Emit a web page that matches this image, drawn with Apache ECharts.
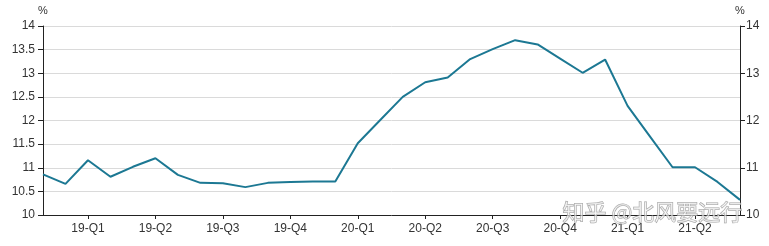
<!DOCTYPE html>
<html><head><meta charset="utf-8">
<script src="https://cdn.jsdelivr.net/npm/echarts@6/dist/echarts.min.js"></script>
<style>html,body{margin:0;padding:0;background:#fff}#c{width:769px;height:246px}</style>
</head><body><div id="c"></div>
<script>
const months = ['18-11','18-12','19-01','19-02','19-03','19-04','19-05','19-06','19-07','19-08','19-09','19-10','19-11','19-12','20-01','20-02','20-03','20-04','20-05','20-06','20-07','20-08','20-09','20-10','20-11','20-12','21-01','21-02','21-03','21-04','21-05','21-06'];
const values = [10.86,10.66,11.16,10.81,11.02,11.2,10.85,10.68,10.67,10.59,10.68,10.70,10.71,10.71,11.52,12.01,12.5,12.81,12.91,13.3,13.51,13.7,13.61,13.31,13.01,13.29,12.31,11.66,11.01,11.01,10.7,10.32];
const quarterLabels = {2:'19-Q1',5:'19-Q2',8:'19-Q3',11:'19-Q4',14:'20-Q1',17:'20-Q2',20:'20-Q3',23:'20-Q4',26:'21-Q1',29:'21-Q2'};
const leftTicks = [10,10.5,11,11.5,12,12.5,13,13.5,14];
const rightTicks = [10,11,12,13,14];
const FONT = 'Liberation Sans, Arial, sans-serif';
const chart = echarts.init(document.getElementById('c'));
chart.setOption({
  animation:false,
  grid:{left:43,right:29,top:26,bottom:31},
  xAxis:{type:'category',data:months,boundaryGap:false,
    axisLine:{lineStyle:{color:'#222',width:1}},
    axisTick:{interval:(i)=>quarterLabels[i]!==undefined,length:4,lineStyle:{color:'#222'}},
    axisLabel:{interval:(i)=>quarterLabels[i]!==undefined,formatter:(v,i)=>quarterLabels[i]||'',color:'#333',fontSize:12,fontFamily:FONT,margin:8},
    splitLine:{show:false}},
  yAxis:[
    {type:'value',min:10,max:14,interval:0.5,position:'left',
     name:'%',nameLocation:'end',nameGap:10,nameTextStyle:{color:'#333',fontSize:11,fontFamily:FONT,align:'center'},
     axisLine:{show:true,lineStyle:{color:'#222'}},axisTick:{show:true,length:5,lineStyle:{color:'#222'}},
     axisLabel:{color:'#333',fontSize:12,fontFamily:FONT,margin:8},
     splitLine:{show:true,lineStyle:{color:'#dadada',width:1}}},
    {type:'value',min:10,max:14,interval:1,position:'right',
     name:'%',nameLocation:'end',nameGap:10,nameTextStyle:{color:'#333',fontSize:11,fontFamily:FONT,align:'center'},
     axisLine:{show:true,lineStyle:{color:'#222'}},axisTick:{show:true,length:5,lineStyle:{color:'#222'}},
     axisLabel:{color:'#333',fontSize:12,fontFamily:FONT,margin:6},
     splitLine:{show:false}}
  ],
  series:[{type:'line',data:values,yAxisIndex:0,symbol:'none',lineStyle:{color:'#1c7893',width:2},z:3}],
  graphic:[{type:'text',left:562,top:200,z:10,style:{text:'知乎 @北风要远行',fontSize:22,fontFamily:'Noto Sans CJK SC',fill:'rgba(255,255,255,0.6)',stroke:'rgba(120,120,120,0.7)',lineWidth:1}}]
});
</script></body></html>
